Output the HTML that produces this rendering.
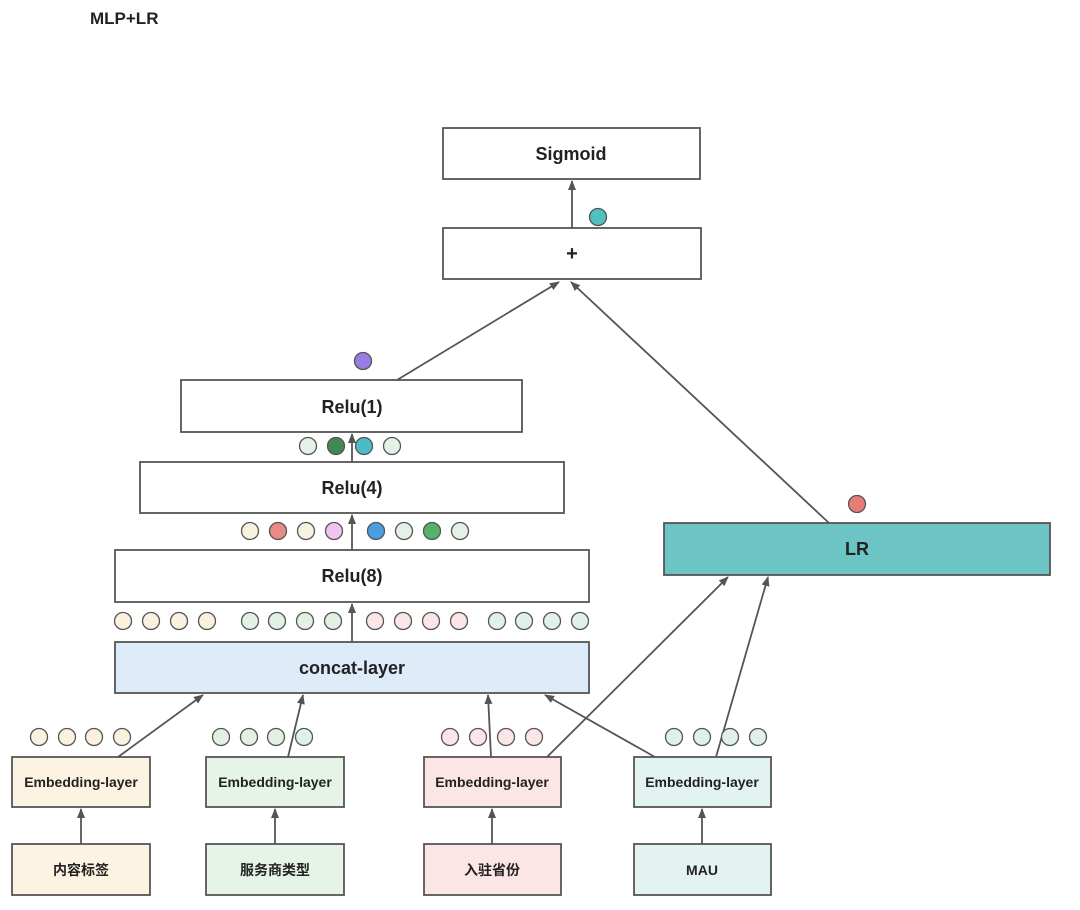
<!DOCTYPE html>
<html><head><meta charset="utf-8"><style>
body{margin:0;background:#fff;}
</style></head><body>
<svg width="1080" height="910" xmlns="http://www.w3.org/2000/svg" style="display:block">
<defs><marker id="a" markerWidth="10" markerHeight="8" refX="9" refY="4" orient="auto" markerUnits="userSpaceOnUse"><path d="M0,0 L10,4 L0,8 Z" fill="#555"/></marker></defs>
<text x="90" y="24" font-family="Liberation Sans, sans-serif" font-weight="bold" font-size="17" fill="#222">MLP+LR</text>
<g stroke="#555" stroke-width="1.8" font-family="Liberation Sans, 'Noto Sans CJK SC', sans-serif" font-weight="bold" text-anchor="middle">
<rect x="443" y="128" width="257" height="51" fill="#fff"/>
<rect x="443" y="228" width="258" height="51" fill="#fff"/>
<rect x="181" y="380" width="341" height="52" fill="#fff"/>
<rect x="140" y="462" width="424" height="51" fill="#fff"/>
<rect x="115" y="550" width="474" height="52" fill="#fff"/>
<rect x="115" y="642" width="474" height="51" fill="#deebf8"/>
<rect x="664" y="523" width="386" height="52" fill="#6cc4c4"/>
<rect x="12" y="757" width="138" height="50" fill="#fcf3e2"/>
<rect x="206" y="757" width="138" height="50" fill="#e5f4e6"/>
<rect x="424" y="757" width="137" height="50" fill="#fbe5e5"/>
<rect x="634" y="757" width="137" height="50" fill="#e3f3f1"/>
<rect x="12" y="844" width="138" height="51" fill="#fcf3e2"/>
<rect x="206" y="844" width="138" height="51" fill="#e5f4e6"/>
<rect x="424" y="844" width="137" height="51" fill="#fbe5e5"/>
<rect x="634" y="844" width="137" height="51" fill="#e3f3f1"/>
<g fill="none">
<line x1="572" y1="228" x2="572" y2="181" marker-end="url(#a)"/>
<line x1="397" y1="380" x2="559" y2="282" marker-end="url(#a)"/>
<line x1="829" y1="523" x2="571" y2="282" marker-end="url(#a)"/>
<line x1="352" y1="462" x2="352" y2="434" marker-end="url(#a)"/>
<line x1="352" y1="550" x2="352" y2="515" marker-end="url(#a)"/>
<line x1="352" y1="642" x2="352" y2="604" marker-end="url(#a)"/>
<line x1="118" y1="757" x2="203" y2="695" marker-end="url(#a)"/>
<line x1="288" y1="757" x2="303" y2="695" marker-end="url(#a)"/>
<line x1="491" y1="757" x2="488" y2="695" marker-end="url(#a)"/>
<line x1="655" y1="757" x2="545" y2="695" marker-end="url(#a)"/>
<line x1="547" y1="757" x2="728" y2="577" marker-end="url(#a)"/>
<line x1="716" y1="757" x2="768" y2="577" marker-end="url(#a)"/>
<line x1="81" y1="844" x2="81" y2="809" marker-end="url(#a)"/>
<line x1="275" y1="844" x2="275" y2="809" marker-end="url(#a)"/>
<line x1="492" y1="844" x2="492" y2="809" marker-end="url(#a)"/>
<line x1="702" y1="844" x2="702" y2="809" marker-end="url(#a)"/>
</g>
<g stroke-width="1.3">
<circle cx="598" cy="217" r="8.5" fill="#4fc1c1"/>
<circle cx="363" cy="361" r="8.5" fill="#9a7be0"/>
<circle cx="857" cy="504" r="8.5" fill="#e77b76"/>
<circle cx="308" cy="446" r="8.5" fill="#e3f1e6"/><circle cx="336" cy="446" r="8.5" fill="#3e8a52"/><circle cx="364" cy="446" r="8.5" fill="#4bbcc4"/><circle cx="392" cy="446" r="8.5" fill="#e3f1e6"/>
<circle cx="250" cy="531" r="8.5" fill="#f7f1df"/><circle cx="278" cy="531" r="8.5" fill="#e78a88"/><circle cx="306" cy="531" r="8.5" fill="#f7f1df"/><circle cx="334" cy="531" r="8.5" fill="#f1c3ef"/>
<circle cx="376" cy="531" r="8.5" fill="#4a9ee0"/><circle cx="404" cy="531" r="8.5" fill="#e3f1e6"/><circle cx="432" cy="531" r="8.5" fill="#55b26a"/><circle cx="460" cy="531" r="8.5" fill="#e3f1e6"/>
<g fill="#fbf1df"><circle cx="123" cy="621" r="8.5"/><circle cx="151" cy="621" r="8.5"/><circle cx="179" cy="621" r="8.5"/><circle cx="207" cy="621" r="8.5"/>
<circle cx="39" cy="737" r="8.5"/><circle cx="67" cy="737" r="8.5"/><circle cx="94" cy="737" r="8.5"/><circle cx="122" cy="737" r="8.5"/></g>
<g fill="#e2f1e3"><circle cx="250" cy="621" r="8.5"/><circle cx="277" cy="621" r="8.5"/><circle cx="305" cy="621" r="8.5"/><circle cx="333" cy="621" r="8.5"/>
<circle cx="221" cy="737" r="8.5"/><circle cx="249" cy="737" r="8.5"/><circle cx="276" cy="737" r="8.5"/><circle cx="304" cy="737" r="8.5"/></g>
<g fill="#fbe6e7"><circle cx="375" cy="621" r="8.5"/><circle cx="403" cy="621" r="8.5"/><circle cx="431" cy="621" r="8.5"/><circle cx="459" cy="621" r="8.5"/>
<circle cx="450" cy="737" r="8.5"/><circle cx="478" cy="737" r="8.5"/><circle cx="506" cy="737" r="8.5"/><circle cx="534" cy="737" r="8.5"/></g>
<g fill="#e0f1ea"><circle cx="497" cy="621" r="8.5"/><circle cx="524" cy="621" r="8.5"/><circle cx="552" cy="621" r="8.5"/><circle cx="580" cy="621" r="8.5"/>
<circle cx="674" cy="737" r="8.5"/><circle cx="702" cy="737" r="8.5"/><circle cx="730" cy="737" r="8.5"/><circle cx="758" cy="737" r="8.5"/></g>
</g>
<g stroke="none" fill="#222" font-size="18">
<text x="571" y="160">Sigmoid</text>
<text x="572" y="260" font-size="20">+</text>
<text x="352" y="413">Relu(1)</text>
<text x="352" y="494">Relu(4)</text>
<text x="352" y="582">Relu(8)</text>
<text x="352" y="674">concat-layer</text>
<text x="857" y="555">LR</text>
<g font-size="14"><text x="81" y="787">Embedding-layer</text><text x="275" y="787">Embedding-layer</text><text x="492" y="787">Embedding-layer</text><text x="702" y="787">Embedding-layer</text>
<text x="81" y="875">内容标签</text><text x="275" y="875">服务商类型</text><text x="492" y="875">入驻省份</text><text x="702" y="875">MAU</text></g>
</g>
</g>
</svg>
</body></html>
